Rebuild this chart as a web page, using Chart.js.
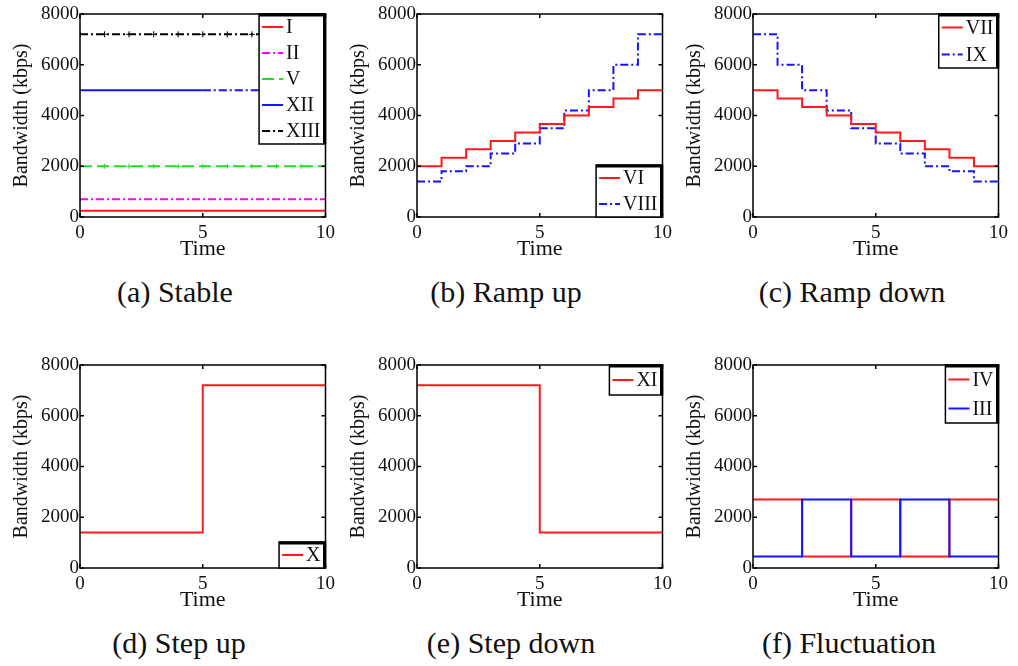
<!DOCTYPE html>
<html>
<head>
<meta charset="utf-8">
<script src="https://cdn.jsdelivr.net/npm/chart.js@4.4.1/dist/chart.umd.min.js"></script>
<style>
    body { margin: 0; background: #fff; width: 1018px; height: 666px; position: relative; overflow: hidden; }
    canvas { position: absolute; }
    .cap {
        position: absolute;
        font-family: 'Liberation Serif', 'Times New Roman', 'DejaVu Serif', serif;
        font-size: 30px;
        font-weight: normal;
        color: #111;
        white-space: nowrap;
        transform: translate(-50%, -50%);
    }
</style>
</head>
<body>
<canvas id="stable" width="340" height="260" style="left:0;top:0"></canvas>
<canvas id="rampUp" width="340" height="260" style="left:337px;top:0"></canvas>
<canvas id="rampDown" width="340" height="260" style="left:673px;top:0"></canvas>
<canvas id="stepUp" width="340" height="260" style="left:0;top:351px"></canvas>
<canvas id="stepDown" width="340" height="260" style="left:337px;top:351px"></canvas>
<canvas id="fluct" width="340" height="260" style="left:673px;top:351px"></canvas>

<div class="cap" style="left:175px;top:292px">(a) Stable</div>
<div class="cap" style="left:506px;top:292px">(b) Ramp up</div>
<div class="cap" style="left:852px;top:292px">(c) Ramp down</div>
<div class="cap" style="left:179px;top:643px">(d) Step up</div>
<div class="cap" style="left:511px;top:643px">(e) Step down</div>
<div class="cap" style="left:849px;top:643px">(f) Fluctuation</div>

<script>
// ================================
// DATA
// ================================
const TIME = [0, 1, 2, 3, 4, 5, 6, 7, 8, 9, 10];
const X_TICKS = [0, 5, 10];
const Y_TICKS = [0, 2000, 4000, 6000, 8000];

// bandwidth held during each unit interval [t, t+1)
const stableI    = [250, 250, 250, 250, 250, 250, 250, 250, 250, 250];
const stableII   = [700, 700, 700, 700, 700, 700, 700, 700, 700, 700];
const stableV    = [2000, 2000, 2000, 2000, 2000, 2000, 2000, 2000, 2000, 2000];
const stableXII  = [5000, 5000, 5000, 5000, 5000, 5000, 5000, 5000, 5000, 5000];
const stableXIII = [7200, 7200, 7200, 7200, 7200, 7200, 7200, 7200, 7200, 7200];

const rampUpVI   = [2000, 2333, 2667, 3000, 3333, 3667, 4000, 4333, 4667, 5000];
const rampUpVIII = [1400, 1800, 2000, 2500, 2900, 3500, 4200, 5000, 6000, 7200];

const rampDownVII = [5000, 4667, 4333, 4000, 3667, 3333, 3000, 2667, 2333, 2000];
const rampDownIX  = [7200, 6000, 5000, 4200, 3500, 2900, 2500, 2000, 1800, 1400];

const stepUpX    = [1400, 1400, 1400, 1400, 1400, 7200, 7200, 7200, 7200, 7200];
const stepDownXI = [7200, 7200, 7200, 7200, 7200, 1400, 1400, 1400, 1400, 1400];

const fluctIV  = [2700, 2700, 450, 450, 2700, 2700, 450, 450, 2700, 2700];
const fluctIII = [450, 450, 2700, 2700, 450, 450, 2700, 2700, 450, 450];

// ================================
// STYLE
// ================================
const SERIF = '"Liberation Serif", "Times New Roman", serif';
const RED = '#ff1a1a';
const BLUE = '#1414ff';
const GREEN = '#1ee01e';
const MAGENTA = '#ff00ff';
const BLACK = '#000000';
const DASH_DOT = [8, 3, 2, 3];
const DASHED = [12, 5];

// ================================
// HELPERS
// ================================
function toPoints(vals) {
    // last time point repeats the final interval so the step reaches t = 10
    return TIME.map((t, i) => ({ x: t, y: vals[Math.min(i, vals.length - 1)] }));
}

function series(label, vals, color, dash, extra) {
    return Object.assign({
        label: label,
        data: toPoints(vals),
        borderColor: color,
        backgroundColor: color,
        borderWidth: 2,
        borderDash: dash || [],
        stepped: true,
        pointRadius: 0,
        fill: false
    }, extra || {});
}

// box + inward tick marks on all four sides
const framePlugin = {
    id: 'frame',
    afterDatasetsDraw(chart) {
        const { ctx, chartArea: a, scales: { x, y } } = chart;
        ctx.save();
        ctx.strokeStyle = BLACK;
        ctx.lineWidth = 1.5;
        ctx.setLineDash([]);
        ctx.strokeRect(a.left, a.top, a.right - a.left, a.bottom - a.top);
        ctx.beginPath();
        x.ticks.forEach(t => {
            const px = x.getPixelForValue(t.value);
            ctx.moveTo(px, a.bottom); ctx.lineTo(px, a.bottom - 4);
            ctx.moveTo(px, a.top); ctx.lineTo(px, a.top + 4);
        });
        y.ticks.forEach(t => {
            const py = y.getPixelForValue(t.value);
            ctx.moveTo(a.left, py); ctx.lineTo(a.left + 4, py);
            ctx.moveTo(a.right, py); ctx.lineTo(a.right - 4, py);
        });
        ctx.stroke();
        ctx.restore();
    }
};

// matlab-like legend box inside the plot corner
const boxLegend = {
    id: 'boxLegend',
    afterDraw(chart, args, opts) {
        const { ctx, chartArea: a } = chart;
        const sets = chart.data.datasets;
        ctx.save();
        ctx.font = '20px ' + SERIF;
        const textW = Math.max(...sets.map(d => ctx.measureText(d.label).width));
        const rowH = opts.rowHeight || 26;
        const w = 32 + textW;
        const h = rowH * sets.length;
        const bx = a.right - w;
        const by = opts.position === 'bottom' ? a.bottom - h : a.top;

        ctx.fillStyle = '#fff';
        ctx.fillRect(bx, by, w, h);
        ctx.strokeStyle = BLACK;
        ctx.lineWidth = 1.5;
        ctx.strokeRect(bx, by, w, h);
        ctx.lineWidth = 3;
        ctx.beginPath();
        ctx.moveTo(bx, by + 1); ctx.lineTo(bx + w - 1, by + 1); ctx.lineTo(bx + w - 1, by + h);
        ctx.stroke();

        sets.forEach((d, i) => {
            const cy = by + rowH * (i + 0.5);
            ctx.strokeStyle = d.borderColor;
            ctx.lineWidth = 2;
            ctx.setLineDash(d.borderDash || []);
            ctx.beginPath();
            ctx.moveTo(bx + 3, cy);
            ctx.lineTo(bx + 24, cy);
            ctx.stroke();
            ctx.setLineDash([]);
            ctx.fillStyle = '#111';
            ctx.textAlign = 'left';
            ctx.textBaseline = 'middle';
            ctx.fillText(d.label, bx + 27, cy + 1);
        });
        ctx.restore();
    }
};

function makeChart(id, datasets, legendPos, rowHeight) {
    const canvas = document.getElementById(id);
    if (!canvas) return;

    return new Chart(canvas, {
        type: 'line',
        data: { datasets: datasets },
        options: {
            responsive: false,
            animation: false,
            events: [],
            layout: { padding: { top: 14, right: 10, left: 0, bottom: 0 } },
            plugins: {
                legend: { display: false },
                tooltip: { enabled: false },
                boxLegend: { position: legendPos, rowHeight: rowHeight }
            },
            scales: {
                x: {
                    type: 'linear',
                    min: TIME[0],
                    max: TIME[TIME.length - 1],
                    grid: { display: false, drawTicks: false },
                    border: { display: false },
                    afterBuildTicks: s => { s.ticks = X_TICKS.map(v => ({ value: v })); },
                    afterFit: s => { s.height = 43; },
                    ticks: { color: '#111', padding: 5, maxRotation: 0, autoSkip: false, font: { family: SERIF, size: 19 }, callback: v => String(v) },
                    title: { display: true, text: 'Time', color: '#111', padding: 0, font: { family: SERIF, size: 22, lineHeight: 1 } }
                },
                y: {
                    min: Y_TICKS[0],
                    max: Y_TICKS[Y_TICKS.length - 1],
                    grid: { display: false, drawTicks: false },
                    border: { display: false },
                    afterBuildTicks: s => { s.ticks = Y_TICKS.map(v => ({ value: v })); },
                    afterFit: s => { s.width = 80; },
                    ticks: { color: '#111', padding: 1, autoSkip: false, font: { family: SERIF, size: 19 }, callback: v => String(v) },
                    title: { display: true, text: 'Bandwidth (kbps)', color: '#111', padding: { top: 10, bottom: 0 }, font: { family: SERIF, size: 20, lineHeight: 1.2 } }
                }
            }
        },
        plugins: [framePlugin, boxLegend]
    });
}

// ================================
// INIT
// ================================
document.addEventListener('DOMContentLoaded', () => {
    if (typeof Chart === 'undefined') {
        console.error('Chart.js not loaded');
        return;
    }

    makeChart('stable', [
        series('I', stableI, RED),
        series('II', stableII, MAGENTA, DASH_DOT),
        series('V', stableV, GREEN, DASHED, { pointRadius: 2.5, pointStyle: 'cross', pointBorderWidth: 1 }),
        series('XII', stableXII, BLUE, [], {
            segment: { borderDash: c => (c.p0.parsed.x >= 5 ? DASH_DOT : undefined) }
        }),
        series('XIII', stableXIII, BLACK, DASH_DOT, { pointRadius: 3, pointStyle: 'cross', pointBorderWidth: 1 })
    ], 'top', 26);

    makeChart('rampUp', [
        series('VI', rampUpVI, RED),
        series('VIII', rampUpVIII, BLUE, DASH_DOT)
    ], 'bottom', 26);

    makeChart('rampDown', [
        series('VII', rampDownVII, RED),
        series('IX', rampDownIX, BLUE, DASH_DOT)
    ], 'top', 27);

    makeChart('stepUp', [
        series('X', stepUpX, RED)
    ], 'bottom', 26);

    makeChart('stepDown', [
        series('XI', stepDownXI, RED)
    ], 'top', 30);

    makeChart('fluct', [
        series('IV', fluctIV, RED, [], { order: 1 }),
        series('III', fluctIII, BLUE, [], { order: 0 })
    ], 'top', 29);
});
</script>
</body>
</html>
